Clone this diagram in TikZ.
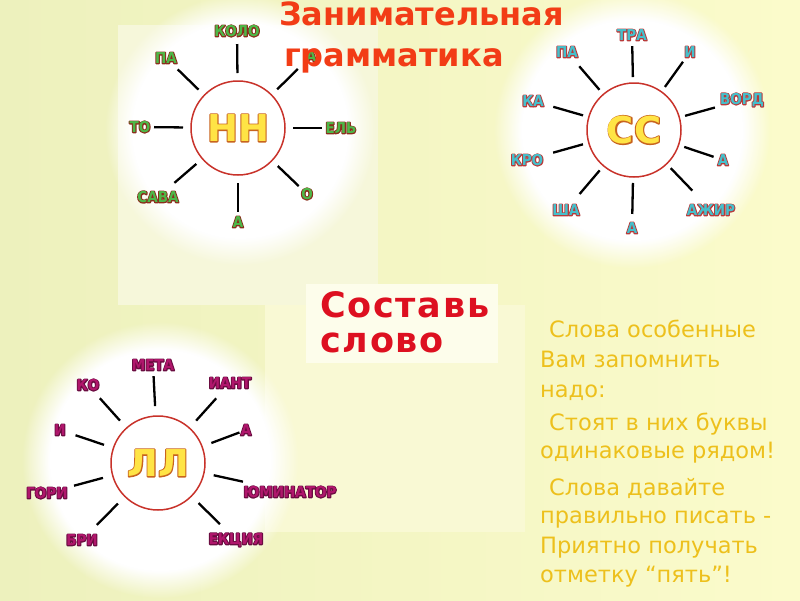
\documentclass[tikz,border=0pt]{standalone}
\usepackage{fontspec}
\setmainfont{DejaVu Sans}
\newfontfamily\labfont[FakeStretch=0.9]{DejaVu Sans}
\newfontfamily\sostfont[LetterSpace=5]{DejaVu Sans}
\usetikzlibrary{calc,fadings}
\definecolor{bgL}{HTML}{EDF1BD}
\definecolor{bgR}{HTML}{FBFBCB}
\definecolor{panelA}{HTML}{F6F7DA}
\definecolor{panelB}{HTML}{F9F9D4}
\definecolor{boxc}{HTML}{FDFDEB}
\definecolor{nnfill}{HTML}{4DB848}
\definecolor{nnout}{HTML}{8A2E1C}
\definecolor{ccfill}{HTML}{45C0CC}
\definecolor{ccout}{HTML}{B83A3A}
\definecolor{llfill}{HTML}{B0166C}
\definecolor{llout}{HTML}{6A0C40}
\definecolor{ctrfill}{HTML}{FFE445}
\definecolor{ctrout}{HTML}{C8641E}
\definecolor{circc}{HTML}{C8322A}
\definecolor{titlec}{HTML}{F23C16}
\definecolor{sostc}{HTML}{DD1020}
\definecolor{poemc}{HTML}{EDC01C}
% outlined text: #1 outline colour, #2 fill colour, #3 stroke width (bp), #4 text
\newcommand\olt[4]{\makebox[0pt][l]{\color{#1}\special{pdf:literal direct 1 j 2 Tr #3 w}#4\special{pdf:literal direct 0 Tr}}\textcolor{#2}{#4}}
\newcommand\nnt[1]{\olt{nnout}{nnfill}{2.0}{#1}}
\newcommand\cct[1]{\olt{ccout}{ccfill}{2.0}{#1}}
\newcommand\llt[1]{\olt{llout}{llfill}{2.0}{#1}}
\newcommand\ctrt[1]{\olt{ctrout}{ctrfill}{2.2}{#1}}
\begin{document}
\begin{tikzpicture}[x=1pt,y=-1pt,
  lbl/.style={font=\labfont\bfseries\fontsize{15}{15}\selectfont, inner sep=1pt},
  hub/.style={circle, draw=circc, line width=1.5pt, fill=white, minimum size=94pt, inner sep=0pt,
    font=\bfseries\fontsize{37}{37}\selectfont},
  spoke/.style={draw=black, line width=2.3pt},
  glow/.style={white, path fading=circle with fuzzy edge 20 percent},
  poem/.style={anchor=base west, inner sep=0pt, text=poemc, font=\fontsize{22.5}{22.5}\selectfont},
  ttl/.style={anchor=base west, inner sep=0pt, text=titlec, font=\bfseries\fontsize{32}{32}\selectfont},
  sost/.style={anchor=base west, inner sep=0pt, text=sostc, font=\sostfont\bfseries\fontsize{35}{35}\selectfont}]
\useasboundingbox (0,0) rectangle (800,600);
% background
\shade[left color=bgL, right color=bgR] (0,0) rectangle (800,600);
\fill[panelB] (265,305) rectangle (525,532);
\fill[panelA] (118,25) rectangle (378,305);
\fill[glow] (240,130) circle (135);
\fill[glow] (632,130) circle (138);
\fill[glow] (160,460) circle (138);
\fill[boxc] (306,284) rectangle (498,363);

% NN wheel
\node[hub] (nn) at (238,128) {\ctrt{НН}};
\node[lbl] (nn1) at (237,31) {\nnt{КОЛО}};
\node[lbl] (nn2) at (166,58) {\nnt{ПА}};
\node[lbl] (nn3) at (311,56) {\nnt{А}};
\node[lbl] (nn4) at (140,127) {\nnt{ТО}};
\node[lbl] (nn5) at (341,128) {\nnt{ЕЛЬ}};
\node[lbl] (nn6) at (158,197) {\nnt{САВА}};
\node[lbl] (nn7) at (238,222) {\nnt{А}};
\node[lbl] (nn8) at (307,194) {\nnt{О}};
\foreach \i in {1,...,8} \draw[spoke] ($(nn)!55pt!(nn\i)$) -- ($(nn)!84pt!(nn\i)$);

% CC wheel
\node[hub] (cc) at (634,130) {\ctrt{СС}};
\node[lbl] (cc1) at (632,35) {\cct{ТРА}};
\node[lbl] (cc2) at (690,52) {\cct{И}};
\node[lbl] (cc3) at (567,52) {\cct{ПА}};
\node[lbl] (cc4) at (533,101) {\cct{КА}};
\node[lbl] (cc5) at (742,100) {\cct{ВОРД}};
\node[lbl] (cc6) at (527,160) {\cct{КРО}};
\node[lbl] (cc7) at (723,160) {\cct{А}};
\node[lbl] (cc8) at (566,210) {\cct{ША}};
\node[lbl] (cc9) at (632,228) {\cct{А}};
\node[lbl] (cc10) at (711,210) {\cct{АЖИР}};
\foreach \i in {1,...,10} \draw[spoke] ($(cc)!53pt!(cc\i)$) -- ($(cc)!84pt!(cc\i)$);

% LL wheel
\node[hub] (ll) at (158,463) {\ctrt{ЛЛ}};
\node[lbl] (ll1) at (153,365) {\llt{МЕТА}};
\node[lbl] (ll2) at (88,385) {\llt{КО}};
\node[lbl] (ll3) at (230,383) {\llt{ИАНТ}};
\node[lbl] (ll4) at (60,430) {\llt{И}};
\node[lbl] (ll5) at (246,430) {\llt{А}};
\node[lbl] (ll6) at (47,493) {\llt{ГОРИ}};
\node[lbl] (ll7) at (290,492) {\llt{ЮМИНАТОР}};
\node[lbl] (ll8) at (82,540) {\llt{БРИ}};
\node[lbl] (ll9) at (236,540) {\llt{ЕКЦИЯ}};
\foreach \i in {1,...,9} \draw[spoke] ($(ll)!57pt!(ll\i)$) -- ($(ll)!87pt!(ll\i)$);

% title
\node[ttl] (t1) at (279,25) {Занимательная};
\node[ttl] (t2) at (284,66) {грамматика};

% Составь слово
\node[sost] (s1) at (320,317) {Составь};
\node[sost] (s2) at (320,352) {слово};

% poem
\node[poem] (p1) at (549,337) {Слова особенные};
\node[poem] (p2) at (540,367) {Вам запомнить};
\node[poem] (p3) at (540,397) {надо:};
\node[poem] (p4) at (549,430) {Стоят в них буквы};
\node[poem] (p5) at (540,458) {одинаковые рядом!};
\node[poem] (p6) at (549,495) {Слова давайте};
\node[poem] (p7) at (540,523) {правильно писать -};
\node[poem] (p8) at (540,553) {Приятно получать};
\node[poem] (p9) at (540,582) {отметку “пять”!};
\end{tikzpicture}
\end{document}
